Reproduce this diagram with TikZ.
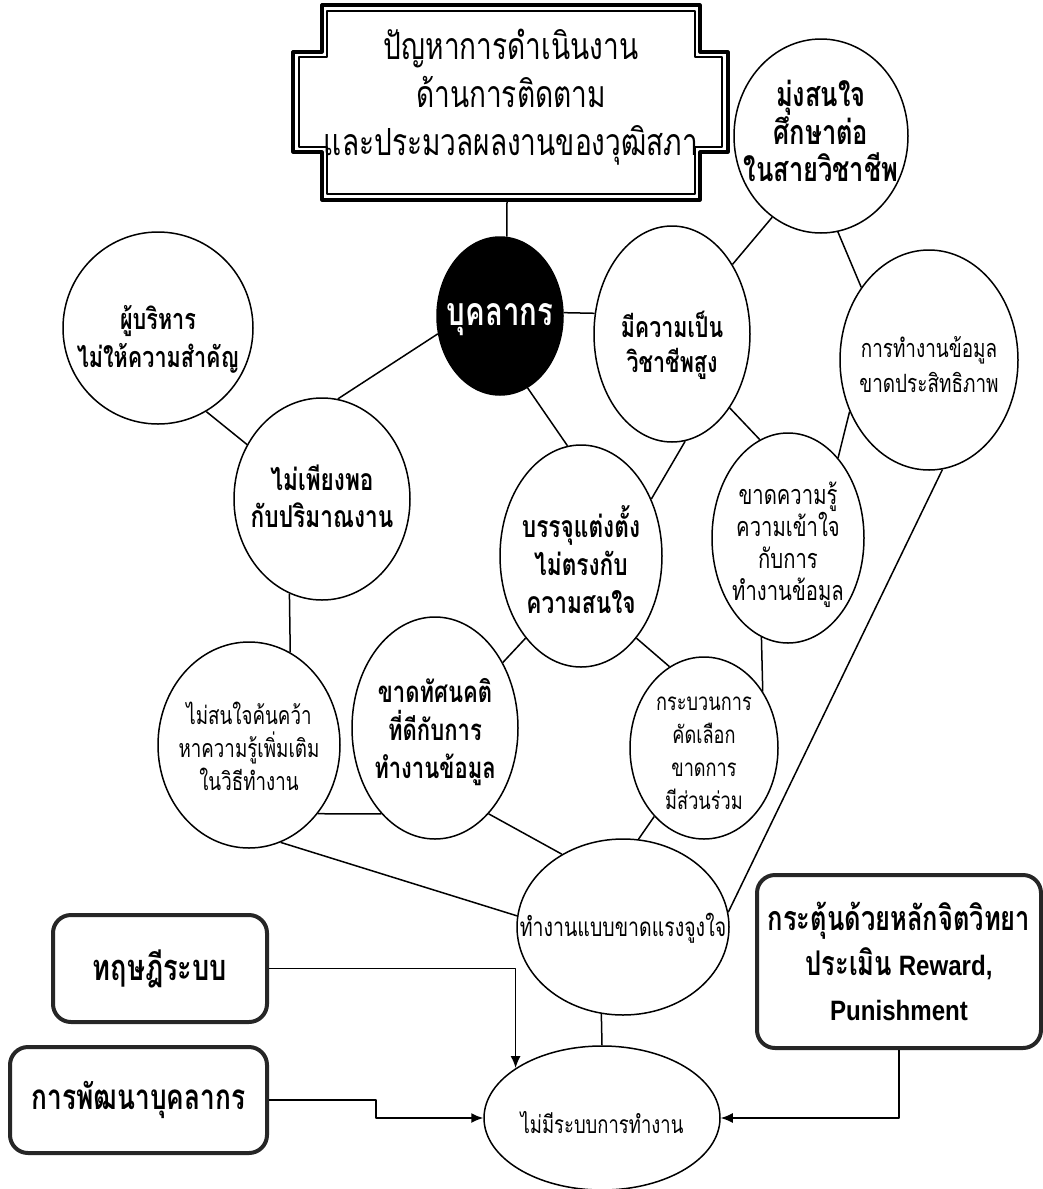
\documentclass[tikz,border=0pt]{standalone}
\usepackage{fontspec}
\usetikzlibrary{shapes.geometric,arrows.meta,calc}
\newfontfamily\thai[Script=Thai,FakeStretch=0.75]{Loma}
\newfontfamily\latinf[FakeStretch=0.86]{Liberation Sans}
\newcommand{\fs}[2]{\fontsize{#1}{#2}\selectfont}
\begin{document}
\begin{tikzpicture}[x=0.5pt,y=-0.5pt,line join=round,
  ell/.style={ellipse, draw=black, line width=0.75pt, inner sep=0pt},
  lbl/.style={align=center, inner sep=0pt},
  conn/.style={line width=0.75pt},
  arr/.style={line width=0.75pt, -{Latex[length=6pt,width=5pt]}},
  rbox/.style={draw=black!85, line width=2pt, rounded corners=9pt, align=center, inner sep=0pt}]
\path[use as bounding box, fill=white] (0,0) rectangle (1043,1189);

% title frame
\draw[line width=1.6pt] (322,5)--(700,5)--(700,52)--(728,52)--(728,152)--(700,152)--(700,200)--(322,200)--(322,152)--(293,152)--(293,52)--(322,52)--cycle;
\draw[line width=0.9pt] (327,11)--(695,11)--(695,57)--(722,57)--(722,147)--(695,147)--(695,194)--(327,194)--(327,147)--(299,147)--(299,57)--(327,57)--cycle;
\node[lbl, font=\thai\fs{18.7}{24}] (title) at (511,97) {ปัญหาการดำเนินงาน\\ด้านการติดตาม\\และประมวลผลงานของวุฒิสภา};
\coordinate (Tb) at (507,200);

% ellipses
\node[ell, minimum width=87pt, minimum height=97pt] (E1) at (821,136) {};
\node[lbl, font=\thai\bfseries\fs{17}{18.75}] (E1t) at (821,131) {มุ่งสนใจ\\ศึกษาต่อ\\ในสายวิชาชีพ};

\node[ell, minimum width=95pt, minimum height=96pt] (E2) at (158,328) {};
\node[lbl, font=\thai\bfseries\fs{14.4}{19}] (E2t) at (158,339) {ผู้บริหาร\\ไม่ให้ความสำคัญ};

\node[ell, fill=black, minimum width=63pt, minimum height=79pt] (E3) at (500,316) {};
\node[lbl, text=white, font=\thai\bfseries\fs{19.6}{22}] (E3t) at (500,320) {บุคลากร};

\node[ell, minimum width=78pt, minimum height=108pt] (E4) at (672,334) {};
\node[lbl, font=\thai\bfseries\fs{14.3}{17.5}] (E4t) at (672,345) {มีความเป็น\\วิชาชีพสูง};

\node[ell, minimum width=89pt, minimum height=110pt] (E5) at (929,360) {};
\node[lbl, font=\thai\fs{12.6}{17.5}] (E5t) at (929,365) {การทำงานข้อมูล\\ขาดประสิทธิภาพ};

\node[ell, minimum width=88pt, minimum height=101pt] (E6) at (322,499) {};
\node[lbl, font=\thai\bfseries\fs{15.1}{18.5}] (E6t) at (322,496) {ไม่เพียงพอ\\กับปริมาณงาน};

\node[ell, minimum width=81pt, minimum height=111pt] (E7) at (581,556) {};
\node[lbl, font=\thai\bfseries\fs{15.1}{19}] (E7t) at (581,560) {บรรจุแต่งตั้ง\\ไม่ตรงกับ\\ความสนใจ};

\node[ell, minimum width=76pt, minimum height=105pt] (E8) at (788,538) {};
\node[lbl, font=\thai\fs{13.5}{16}] (E8t) at (788,545) {ขาดความรู้\\ความเข้าใจ\\กับการ\\ทำงานข้อมูล};

\node[ell, minimum width=91pt, minimum height=103pt] (E9) at (249,745) {};
\node[lbl, font=\thai\fs{12.5}{16.5}] (E9t) at (249,746) {ไม่สนใจค้นคว้า\\หาความรู้เพิ่มเติม\\ในวิธีทำงาน};

\node[ell, minimum width=83pt, minimum height=111pt] (E10) at (435,728) {};
\node[lbl, font=\thai\bfseries\fs{14.7}{19}] (E10t) at (435,732) {ขาดทัศนคติ\\ที่ดีกับการ\\ทำงานข้อมูล};

\node[ell, minimum width=74pt, minimum height=91pt] (E11) at (704,748) {};
\node[lbl, font=\thai\fs{12.1}{16.5}] (E11t) at (704,753) {กระบวนการ\\คัดเลือก\\ขาดการ\\มีส่วนร่วม};

\node[ell, minimum width=106pt, minimum height=88pt] (E12) at (623,927) {};
\node[lbl, font=\thai\fs{13}{14}] (E12t) at (623,928) {ทำงานแบบขาดแรงจูงใจ};

\node[ell, minimum width=118pt, minimum height=72pt] (E13) at (602,1118) {};
\node[lbl, font=\thai\fs{12.3}{14}] (E13t) at (602,1123) {ไม่มีระบบการทำงาน};

% boxes
\node[rbox, minimum width=107pt, minimum height=53.5pt, font=\thai\bfseries\fs{18.1}{20}] (B1) at (160,968.5) {ทฤษฎีระบบ};
\node[rbox, minimum width=128.5pt, minimum height=53pt, font=\thai\bfseries\fs{17.5}{20}] (B2) at (138.5,1100) {การพัฒนาบุคลากร};
\node[rbox, minimum width=142pt, minimum height=86.5pt, font=\bfseries\fs{17}{22.5}] (B3) at (899,961.5) {{\thai กระตุ้นด้วยหลักจิตวิทยา}\\{\thai ประเมิน}{\latinf\fs{14}{22.5} Reward,}\\{\latinf\fs{14}{22.5}Punishment}};

% connectors
\draw[conn] (E3.85) -- (Tb);
\draw[conn] (E3.3) -- (E4.165);
\draw[conn] (E3.196) -- (E6.81);
\draw[conn] (E3.291) -- (E7.97);
\draw[conn] (E2.300) -- (E6.144);
\draw[conn] (E1.239) -- (E4.49);
\draw[conn] (E1.280) -- (E5.133);
\draw[conn] (E4.308) -- (E8.106);
\draw[conn] (E4.277) -- (E7.39);
\draw[conn] (E5.213) -- (E8.58);
\draw[conn] (E5.277) -- (E12.8);
\draw[conn] (E6.251) -- (E9.66);
\draw[conn] (E7.236) -- (E10.44);
\draw[conn] (E7.304) -- (E11.113);
\draw[conn] (E8.255) -- (E11.44);
\draw[conn] (E9.315) -- (E10.238);
\draw[conn] (E10.302) -- (E12.130);
\draw[conn] (E9.288) -- (E12.174);
\draw[conn] (E11.234) -- (E12.80);
\draw[conn] (E12.256) -- (E13.north);

% arrows
\draw[arr] (B1.east) -| (E13.150);
\draw[arr] (B2.east) -| ($(B2.east)!0.5!(E13.west)$) |- (E13.west);
\draw[arr] (B3.south) |- (E13.east);
\end{tikzpicture}
\end{document}
